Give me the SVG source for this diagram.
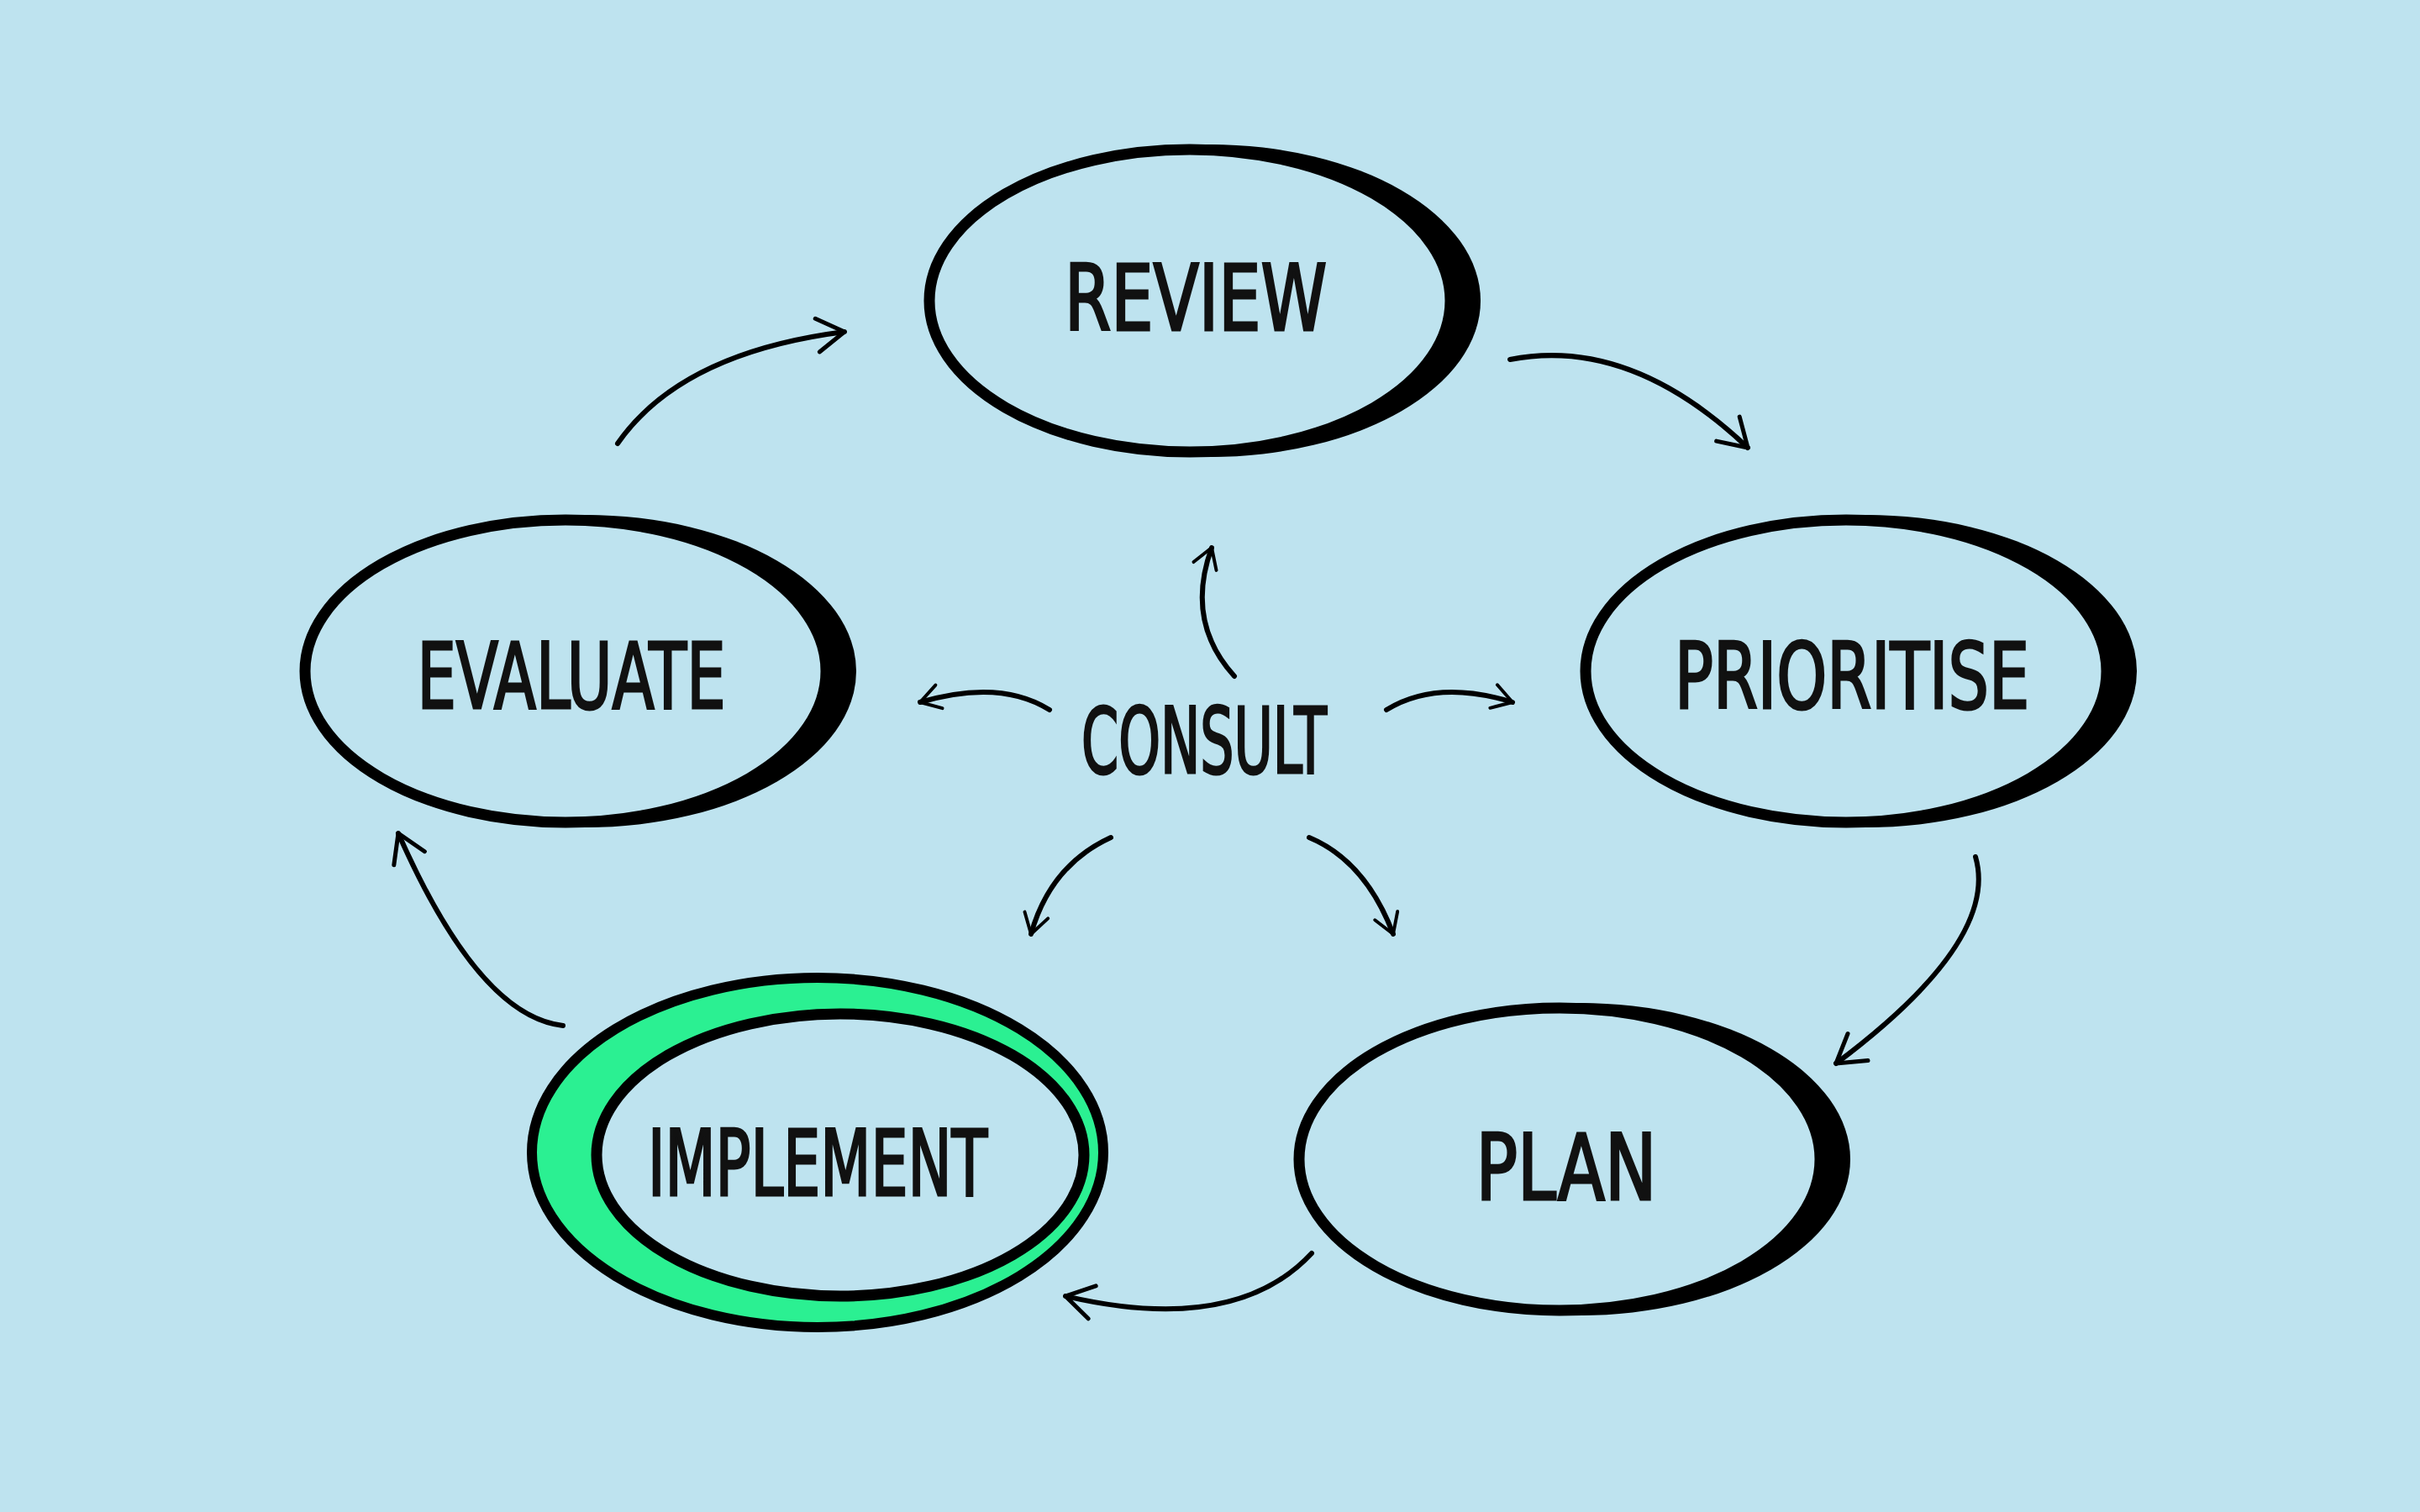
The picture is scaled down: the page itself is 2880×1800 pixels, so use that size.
<svg xmlns="http://www.w3.org/2000/svg" width="2880" height="1800" viewBox="0 0 2880 1800">
<defs>
<style>
.lbl{font-family:"DejaVu Sans Condensed","Liberation Sans",sans-serif;font-size:108px;fill:#111;stroke:#111;stroke-width:3;text-anchor:middle;dominant-baseline:central}
.ring{fill:none;stroke:#000;stroke-width:13}
.sh{fill:#000}
.bg{fill:#bee3ef}
.con{fill:none;stroke:#000;stroke-width:6;stroke-linecap:round}
</style>
<marker id="ah" viewBox="0 0 20 20" refX="16" refY="10" markerWidth="36" markerHeight="36" orient="auto" markerUnits="userSpaceOnUse">
<path d="M3,2 L16,10 L3,18" fill="none" stroke="#000" stroke-width="2.2" stroke-linecap="round" stroke-linejoin="round"/>
</marker>
<marker id="ah2" viewBox="0 0 20 20" refX="16" refY="10" markerWidth="50" markerHeight="50" orient="auto" markerUnits="userSpaceOnUse">
<path d="M3,2 L16,10 L3,18" fill="none" stroke="#000" stroke-width="2" stroke-linecap="round" stroke-linejoin="round"/>
</marker>
</defs>
<rect width="2880" height="1800" fill="#bee3ef"/>
<g id="review">
<ellipse class="sh" cx="1440" cy="358" rx="322" ry="186"/>
<ellipse class="bg" cx="1416" cy="358" rx="310" ry="180"/>
<ellipse class="ring" cx="1416" cy="358" rx="310" ry="180"/>
<text class="lbl" x="1423" y="355" textLength="312" lengthAdjust="spacingAndGlyphs">REVIEW</text>
</g>
<g id="evaluate">
<ellipse class="sh" cx="697" cy="799" rx="322" ry="186"/>
<ellipse class="bg" cx="673" cy="799" rx="310" ry="180"/>
<ellipse class="ring" cx="673" cy="799" rx="310" ry="180"/>
<text class="lbl" x="680" y="805" textLength="367" lengthAdjust="spacingAndGlyphs">EVALUATE</text>
</g>
<g id="prioritise">
<ellipse class="sh" cx="2221" cy="799" rx="322" ry="186"/>
<ellipse class="bg" cx="2197" cy="799" rx="310" ry="180"/>
<ellipse class="ring" cx="2197" cy="799" rx="310" ry="180"/>
<text class="lbl" x="2204" y="805" textLength="422" lengthAdjust="spacingAndGlyphs">PRIORITISE</text>
</g>
<g id="plan">
<ellipse class="sh" cx="1880" cy="1380" rx="322" ry="186"/>
<ellipse class="bg" cx="1856" cy="1380" rx="310" ry="180"/>
<ellipse class="ring" cx="1856" cy="1380" rx="310" ry="180"/>
<text class="lbl" x="1864" y="1390" textLength="215" lengthAdjust="spacingAndGlyphs">PLAN</text>
</g>
<g id="implement">
<ellipse cx="973" cy="1372" rx="340" ry="208" fill="#2bf092" stroke="#000" stroke-width="12"/>
<ellipse class="bg" cx="1000" cy="1375" rx="290" ry="168"/>
<ellipse class="ring" cx="1000" cy="1375" rx="290" ry="168"/>
<text class="lbl" x="973" y="1385" textLength="404" lengthAdjust="spacingAndGlyphs">IMPLEMENT</text>
</g>
<g id="consult">
<text class="lbl" x="1433" y="882" textLength="292" lengthAdjust="spacingAndGlyphs">CONSULT</text>
</g>
<g id="connectors">
<path class="con" marker-end="url(#ah2)" d="M735,528 Q810,420 1005,395"/>
<path class="con" marker-end="url(#ah2)" d="M1797,428 Q1940,400 2080,533"/>
<path class="con" marker-end="url(#ah2)" d="M2351,1020 Q2380,1120 2185,1266"/>
<path class="con" marker-end="url(#ah2)" d="M1561,1492 Q1470,1590 1268,1543"/>
<path class="con" marker-end="url(#ah2)" d="M670,1221 Q570,1210 474,992"/>
<path class="con" marker-end="url(#ah)" d="M1469,805 Q1410,740 1442,652"/>
<path class="con" marker-end="url(#ah)" d="M1249,845 Q1190,808 1095,836"/>
<path class="con" marker-end="url(#ah)" d="M1650,845 Q1710,808 1800,836"/>
<path class="con" marker-end="url(#ah)" d="M1322,997 Q1250,1030 1227,1112"/>
<path class="con" marker-end="url(#ah)" d="M1558,997 Q1625,1025 1658,1112"/>
</g>
</svg>
